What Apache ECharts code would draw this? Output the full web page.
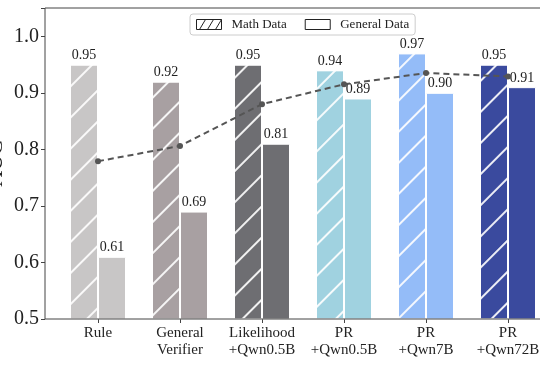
<!DOCTYPE html>
<html><head><meta charset="utf-8">
<script src="https://cdn.jsdelivr.net/npm/echarts@6/dist/echarts.min.js"></script>
<style>html,body{margin:0;padding:0;background:#fff}#c{width:540px;height:372px}</style>
</head><body><div id="c"></div>
<script>
const categories = ['Rule', 'General\nVerifier', 'Likelihood\n+Qwn0.5B', 'PR\n+Qwn0.5B', 'PR\n+Qwn7B', 'PR\n+Qwn72B'];
const mathData = [0.95, 0.92, 0.95, 0.94, 0.97, 0.95];
const generalData = [0.61, 0.69, 0.81, 0.89, 0.90, 0.91];
const avgLine = [0.779, 0.806, 0.88, 0.915, 0.935, 0.929];
const yTicks = [0.5, 0.6, 0.7, 0.8, 0.9, 1.0];
const colors = ['#c8c6c6', '#a8a0a2', '#6e6e72', '#a0d2e0', '#94bcf8', '#3a4a9e'];

const FONT = 'Liberation Serif';
const hatch = (c) => ({ color: c, symbol: 'rect', symbolSize: 1, dashArrayX: [1, 0], dashArrayY: [1.3, 20], rotation: -Math.PI / 4 });

const chart = echarts.init(document.getElementById('c'));
chart.setOption({
  animation: false,
  textStyle: { fontFamily: FONT },
  grid: { left: 57, top: 8, bottom: 53, width: 492, containLabel: false, outerBoundsMode: 'none' },
  graphic: [{ type: 'rect', shape: { x: 45, y: 8, width: 540, height: 311 }, style: { fill: 'none', stroke: '#444', lineWidth: 1 }, z: 10, silent: true }],
  legend: {
    top: 14, left: 190,
    padding: [4, 6], itemGap: 18, itemWidth: 25, itemHeight: 10,
    borderColor: '#ccc', borderWidth: 1, borderRadius: 3, backgroundColor: '#fff',
    textStyle: { fontFamily: FONT, fontSize: 13, color: '#222', padding: [0, 0, 0, 5] },
    data: [
      { name: 'Math Data', icon: 'path://M0,0H25V10H0Z M3,10L9,0 M11,10L17,0 M19,10L25,0', itemStyle: { color: '#fff', borderColor: '#222', borderWidth: 1, decal: 'none' } },
      { name: 'General Data', icon: 'rect', itemStyle: { color: '#fff', borderColor: '#222', borderWidth: 1, decal: 'none' } }
    ]
  },
  xAxis: {
    type: 'category', data: categories,
    axisLine: { show: false },
    axisTick: { show: true, alignWithLabel: true, length: 4, lineStyle: { color: '#444' } },
    axisLabel: { interval: 0, fontFamily: FONT, fontSize: 15, color: '#222', lineHeight: 17, margin: 6 }
  },
  yAxis: {
    type: 'value', min: 0.5, max: 1.05, interval: 0.1, offset: 12,
    name: 'AUC', nameLocation: 'middle', nameGap: 38, nameRotate: 90, nameMoveOverlap: false,
    nameTextStyle: { fontFamily: FONT, fontSize: 22, color: '#222' },
    axisLine: { show: false },
    axisTick: { show: true, length: 4, lineStyle: { color: '#444' } },
    splitLine: { show: false },
    axisLabel: {
      fontFamily: FONT, fontSize: 20, color: '#222', margin: 6,
      formatter: v => yTicks.some(t => Math.abs(t - v) < 1e-6) ? v.toFixed(1) : ''
    }
  },
  series: [
    {
      name: 'Math Data', type: 'bar', barWidth: 28, barGap: '0%',
      itemStyle: { color: '#fff', borderColor: '#fff', borderWidth: 1 },
      data: mathData.map((v, i) => ({ value: v, itemStyle: { color: colors[i], borderColor: '#fff', borderWidth: 1, decal: hatch('rgba(255,255,255,0.9)') } })),
      label: { show: true, position: 'top', distance: 2, fontFamily: FONT, fontSize: 14, color: '#222', formatter: p => p.value.toFixed(2) }
    },
    {
      name: 'General Data', type: 'bar', barWidth: 28, barGap: '0%',
      itemStyle: { color: '#fff', borderColor: '#fff', borderWidth: 1 },
      data: generalData.map((v, i) => ({ value: v, itemStyle: { color: colors[i], borderColor: '#fff', borderWidth: 1 } })),
      label: { show: true, position: 'top', distance: 2, fontFamily: FONT, fontSize: 14, color: '#222', formatter: p => p.value.toFixed(2) }
    },
    {
      name: 'avg', type: 'line', data: avgLine, z: 5,
      symbol: 'circle', symbolSize: 6,
      lineStyle: { color: '#555', width: 2, type: [6, 4] },
      itemStyle: { color: '#555' },
      label: { show: false }
    }
  ]
});
</script></body></html>
